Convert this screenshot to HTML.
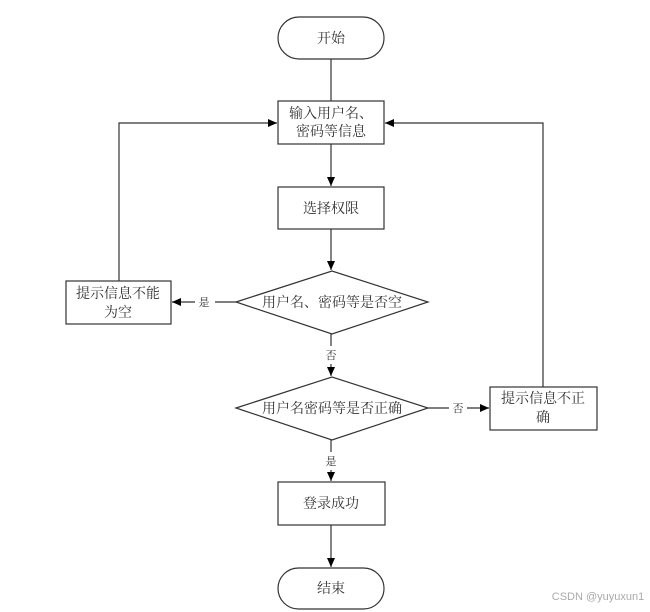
<!DOCTYPE html>
<html><head><meta charset="utf-8"><style>
html,body{margin:0;padding:0;background:#fff;}
svg{display:block;}
text{font-family:"Liberation Serif","Noto Serif CJK SC",serif;font-size:14px;fill:#333;}
</style></head><body>
<svg width="650" height="612" viewBox="0 0 650 612" xmlns="http://www.w3.org/2000/svg">
<defs><marker id="a" markerWidth="10" markerHeight="10" refX="9" refY="5" orient="auto" markerUnits="userSpaceOnUse"><path d="M0,1 L9,5 L0,9 z" fill="#000"/></marker></defs>
<g stroke="#333" stroke-width="1.2" fill="#fff">
<rect x="278" y="17" width="106" height="42" rx="21"/>
<rect x="278" y="101" width="106" height="43"/>
<rect x="278" y="187" width="106" height="42"/>
<polygon points="236,302 332,271 428,302 332,334"/>
<rect x="66" y="281" width="105" height="43"/>
<polygon points="236,408 332,377 428,408 332,440"/>
<rect x="490" y="387" width="107" height="43"/>
<rect x="278" y="482" width="107" height="43"/>
<rect x="278" y="568" width="106" height="41" rx="20.5"/>
</g>
<g stroke="#333" stroke-width="1.2" fill="none">
<line x1="331" y1="59" x2="331" y2="101"/>
<line x1="331" y1="144" x2="331" y2="186" marker-end="url(#a)"/>
<line x1="331" y1="229" x2="331" y2="270" marker-end="url(#a)"/>
<polyline points="119,281 119,123 277,123" marker-end="url(#a)"/>
<polyline points="543,387 543,123 385,123" marker-end="url(#a)"/>
<line x1="236" y1="302" x2="215" y2="302"/>
<line x1="195" y1="302" x2="172" y2="302" marker-end="url(#a)"/>
<line x1="331" y1="334" x2="331" y2="346"/>
<line x1="331" y1="364" x2="331" y2="376" marker-end="url(#a)"/>
<line x1="428" y1="408" x2="449" y2="408"/>
<line x1="467" y1="408" x2="489" y2="408" marker-end="url(#a)"/>
<line x1="331" y1="440" x2="331" y2="452"/>
<line x1="331" y1="470" x2="331" y2="481" marker-end="url(#a)"/>
<line x1="331" y1="525" x2="331" y2="567" marker-end="url(#a)"/>
</g>
<g text-anchor="middle">
<text x="331" y="43">开始</text>
<text x="331" y="118">输入用户名、</text>
<text x="331" y="136">密码等信息</text>
<text x="331" y="213">选择权限</text>
<text x="332" y="307">用户名、密码等是否空</text>
<text x="118" y="298">提示信息不能</text>
<text x="118" y="317">为空</text>
<text x="332" y="413">用户名密码等是否正确</text>
<text x="543" y="403">提示信息不正</text>
<text x="543" y="422">确</text>
<text x="331" y="508">登录成功</text>
<text x="331" y="593">结束</text>
<text x="204" y="306" style="font-size:11px">是</text>
<text x="331" y="359" style="font-size:11px">否</text>
<text x="458" y="412" style="font-size:11px">否</text>
<text x="331" y="465" style="font-size:11px">是</text>
<text x="598" y="600" style="font-size:11px;fill:#aaa;font-family:'Liberation Sans',sans-serif">CSDN @yuyuxun1</text>
</g>
</svg>
</body></html>
